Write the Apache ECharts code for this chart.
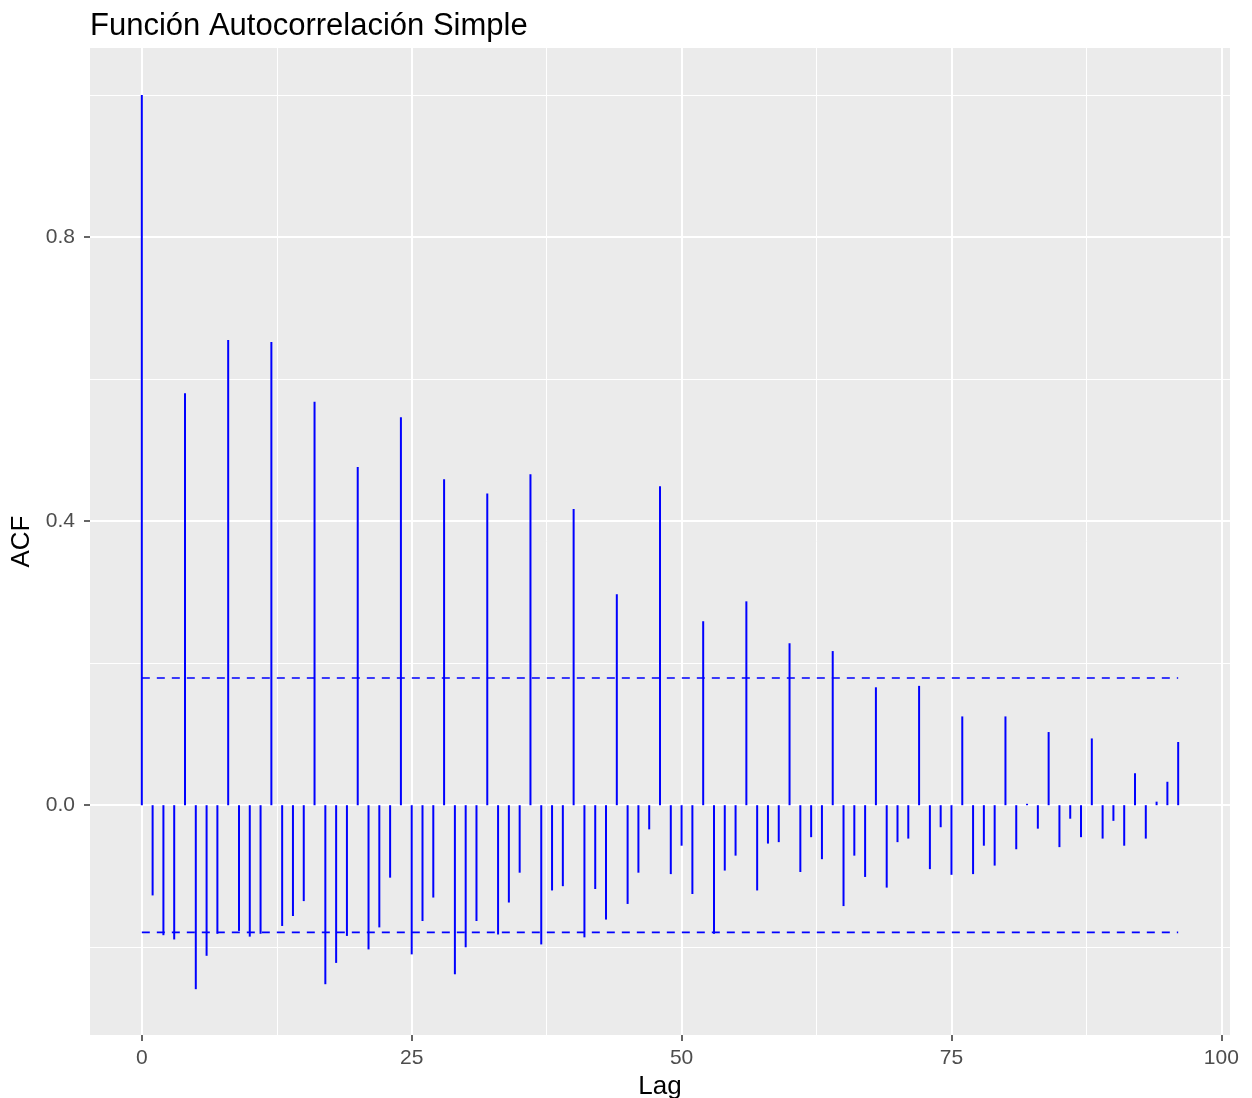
<!DOCTYPE html>
<html>
<head>
<meta charset="utf-8">
<title>ACF</title>
<script src="https://cdn.jsdelivr.net/npm/echarts@6/dist/echarts.min.js"></script>
<style>
  html, body { margin: 0; padding: 0; background: #fff; }
  #chart { width: 1252px; height: 1098px; }
</style>
</head>
<body>
<div id="chart"></div>
<script>
// autocorrelación por retardo (0..96)
const lags = Array.from({ length: 97 }, (_, i) => i)
const acfValues = [
  1.000, -0.127, -0.183, -0.189, 0.580, -0.259, -0.212, -0.181,
  0.655, -0.177, -0.185, -0.181, 0.652, -0.170, -0.156, -0.135,
  0.568, -0.252, -0.222, -0.184, 0.476, -0.203, -0.172, -0.102,
  0.546, -0.210, -0.163, -0.130, 0.459, -0.238, -0.200, -0.163,
  0.439, -0.182, -0.137, -0.095, 0.466, -0.196, -0.120, -0.114,
  0.417, -0.186, -0.118, -0.161, 0.297, -0.139, -0.095, -0.034,
  0.449, -0.097, -0.057, -0.125, 0.259, -0.181, -0.092, -0.071,
  0.287, -0.120, -0.054, -0.052, 0.228, -0.094, -0.045, -0.076,
  0.217, -0.142, -0.071, -0.101, 0.166, -0.116, -0.052, -0.047,
  0.168, -0.090, -0.031, -0.098, 0.125, -0.097, -0.057, -0.085,
  0.125, -0.062, 0.002, -0.033, 0.103, -0.059, -0.019, -0.045,
  0.094, -0.047, -0.022, -0.057, 0.045, -0.047, 0.005, 0.033,
  0.089
]
// bandas de confianza
const confLimit = 0.179
const confRange = [0, 96]

// ejes
const xTicks = [0, 25, 50, 75, 100]
const xMinor = [12.5, 37.5, 62.5, 87.5]
const yTicks = [0.0, 0.4, 0.8]
const yMinor = [-0.2, 0.2, 0.6, 1.0]
const xRange = [-4.8, 100.8]
const yRange = [-0.3235, 1.066]

const font = 'Liberation Sans, Arial, sans-serif'
const chart = echarts.init(document.getElementById('chart'))

const gridLines = (vals, key, width) => vals.map(v => ({
  [key]: v,
  lineStyle: { color: '#ffffff', width: width, type: 'solid' }
}))

const option = {
  animation: false,
  backgroundColor: '#ffffff',
  title: {
    text: 'Función Autocorrelación Simple',
    left: 85,
    top: 6,
    textStyle: { fontFamily: font, fontSize: 31, fontWeight: 'normal', color: '#000000' }
  },
  grid: {
    left: 90, top: 48, width: 1140, height: 987,
    outerBoundsMode: 'none',
    containLabel: false,
    show: true, backgroundColor: '#ebebeb', borderWidth: 0
  },
  xAxis: {
    type: 'value',
    min: xRange[0],
    max: xRange[1],
    name: 'Lag',
    nameLocation: 'middle',
    nameGap: 34,
    nameTextStyle: { fontFamily: font, fontSize: 26, color: '#000000' },
    axisLine: { show: false, onZero: false },
    axisTick: { show: true, length: 6, customValues: xTicks, lineStyle: { color: '#333333', width: 1.5 } },
    axisLabel: { customValues: xTicks, margin: 13, fontFamily: font, fontSize: 21, color: '#4d4d4d' },
    splitLine: { show: false }
  },
  yAxis: {
    type: 'value',
    min: yRange[0],
    max: yRange[1],
    name: 'ACF',
    nameLocation: 'middle',
    nameRotate: 90,
    nameGap: 49,
    nameTextStyle: { fontFamily: font, fontSize: 26, color: '#000000' },
    axisLine: { show: false, onZero: false },
    axisTick: { show: true, length: 6, customValues: yTicks, lineStyle: { color: '#333333', width: 1.5 } },
    axisLabel: {
      customValues: yTicks, margin: 15, fontFamily: font, fontSize: 21, color: '#4d4d4d',
      formatter: v => v.toFixed(1)
    },
    splitLine: { show: false }
  },
  series: [
    {
      // rejilla de fondo, por debajo de las barras
      type: 'line',
      data: [],
      z: 0,
      silent: true,
      markLine: {
        silent: true,
        z: 0,
        symbol: ['none', 'none'],
        label: { show: false },
        animation: false,
        data: [
          ...gridLines(xMinor, 'xAxis', 1),
          ...gridLines(yMinor, 'yAxis', 1),
          ...gridLines(xTicks, 'xAxis', 2),
          ...gridLines(yTicks, 'yAxis', 2)
        ]
      }
    },
    {
      type: 'bar',
      z: 3,
      barWidth: 2,
      itemStyle: { color: '#0000ff' },
      data: lags.map((l, i) => [l, acfValues[i]])
    },
    {
      type: 'line',
      z: 4,
      showSymbol: false,
      lineStyle: { color: '#0000ff', width: 1.6, type: [8, 7] },
      data: confRange.map(x => [x, confLimit])
    },
    {
      type: 'line',
      z: 4,
      showSymbol: false,
      lineStyle: { color: '#0000ff', width: 1.6, type: [8, 7] },
      data: confRange.map(x => [x, -confLimit])
    }
  ]
}

chart.setOption(option)
</script>
</body>
</html>
